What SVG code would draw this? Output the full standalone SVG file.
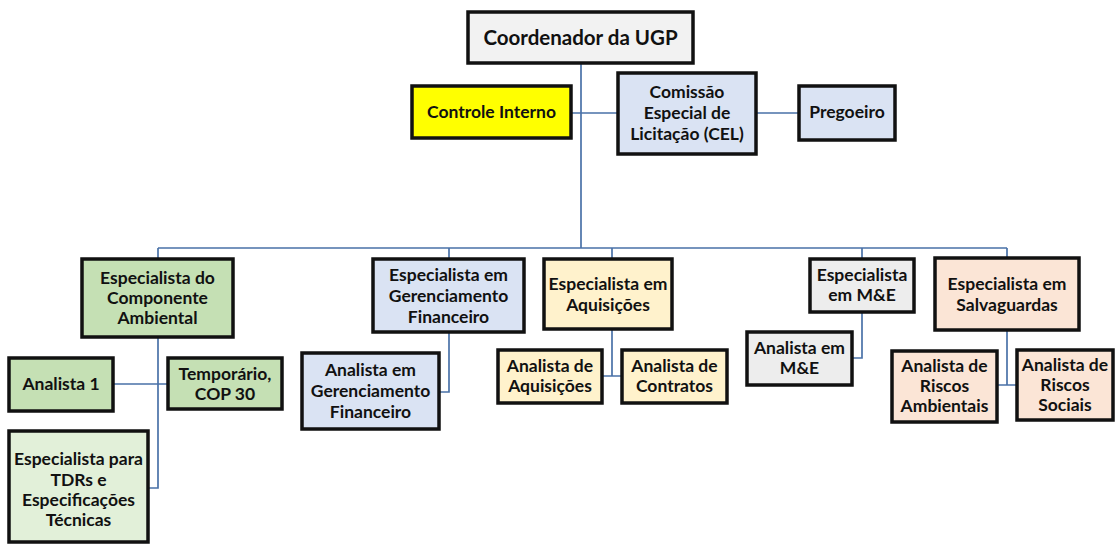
<svg xmlns="http://www.w3.org/2000/svg" width="1115" height="544" viewBox="0 0 1115 544">
<style>
.b{stroke:#111;stroke-width:3.5}
.t{font-family:Lato,"Liberation Sans",sans-serif;font-weight:bold;font-size:17.5px;fill:#111;text-anchor:middle}
.c{fill:none;stroke:#4a72a8;stroke-width:1.7}
.grey{fill:#f2f2f2}.yel{fill:#ffff00}.blue{fill:#dae3f3}.green{fill:#c5e0b4}.lgreen{fill:#e2f0d9}.sand{fill:#fff2cc}.gray2{fill:#ededed}.sal{fill:#fbe5d6}
</style>
<rect width="1115" height="544" fill="#fff"/>
<g id="connectors">
<path class="c" d="M581,63V248M571,113H618M756,113H799M158,248H1007M158,248V259M449,248V259M612,248V259M862,248V259M1007,248V258"/>
<path class="c" d="M158,337V488H148M113,384H168"/>
<path class="c" d="M449,332V392H439"/>
<path class="c" d="M612,329V376M602,376H622"/>
<path class="c" d="M862,312V358H852"/>
<path class="c" d="M1007,330V385M997,385H1017"/>
</g>
<g id="coordenador"><rect class="b grey" x="468" y="12" width="225" height="51"/><text class="t" x="580.5" y="44.5" style="font-size:20.5px">Coordenador da UGP</text></g>
<g id="controle"><rect class="b yel" x="412" y="86" width="159" height="52"/><text class="t" x="491.5" y="118">Controle Interno</text></g>
<g id="cel"><rect class="b blue" x="618" y="73" width="138" height="81"/><text class="t" x="687" y="98">Comissão<tspan x="687" dy="21">Especial de</tspan><tspan x="687" dy="21">Licitação (CEL)</tspan></text></g>
<g id="pregoeiro"><rect class="b blue" x="799" y="86" width="96" height="54"/><text class="t" x="847" y="118">Pregoeiro</text></g>
<g id="esp-amb"><rect class="b green" x="82" y="259" width="151" height="78"/><text class="t" x="157.5" y="284">Especialista do<tspan x="157.5" dy="20">Componente</tspan><tspan x="157.5" dy="20">Ambiental</tspan></text></g>
<g id="analista1"><rect class="b green" x="9" y="358" width="104" height="53"/><text class="t" x="61" y="390">Analista 1</text></g>
<g id="temporario"><rect class="b green" x="168" y="358" width="114" height="51"/><text class="t" x="225" y="380">Temporário,<tspan x="225" dy="20">COP 30</tspan></text></g>
<g id="esp-tdr"><rect class="b lgreen" x="9" y="431" width="139" height="111"/><text class="t" x="78.5" y="465">Especialista para<tspan x="78.5" dy="20.5">TDRs e</tspan><tspan x="78.5" dy="20.5">Especificações</tspan><tspan x="78.5" dy="19.5">Técnicas</tspan></text></g>
<g id="esp-fin"><rect class="b blue" x="373" y="259" width="151" height="73"/><text class="t" x="448.5" y="281">Especialista em<tspan x="448.5" dy="21">Gerenciamento</tspan><tspan x="448.5" dy="21">Financeiro</tspan></text></g>
<g id="analista-fin"><rect class="b blue" x="302" y="353" width="137" height="76"/><text class="t" x="370.5" y="376">Analista em<tspan x="370.5" dy="21">Gerenciamento</tspan><tspan x="370.5" dy="21">Financeiro</tspan></text></g>
<g id="esp-aq"><rect class="b sand" x="544" y="259" width="128" height="70"/><text class="t" x="608" y="290">Especialista em<tspan x="608" dy="21">Aquisições</tspan></text></g>
<g id="analista-aq"><rect class="b sand" x="498" y="350" width="104" height="53"/><text class="t" x="550" y="372">Analista de<tspan x="550" dy="20">Aquisições</tspan></text></g>
<g id="analista-cont"><rect class="b sand" x="622" y="350" width="105" height="53"/><text class="t" x="674.5" y="372">Analista de<tspan x="674.5" dy="20">Contratos</tspan></text></g>
<g id="esp-me"><rect class="b gray2" x="810" y="259" width="104" height="53"/><text class="t" x="862" y="281">Especialista<tspan x="862" dy="20">em M&amp;E</tspan></text></g>
<g id="analista-me"><rect class="b gray2" x="747" y="332" width="105" height="53"/><text class="t" x="799.5" y="354">Analista em<tspan x="799.5" dy="20">M&amp;E</tspan></text></g>
<g id="esp-salv"><rect class="b sal" x="935" y="258" width="144" height="72"/><text class="t" x="1007" y="290">Especialista em<tspan x="1007" dy="21">Salvaguardas</tspan></text></g>
<g id="riscos-amb"><rect class="b sal" x="892" y="351" width="105" height="71"/><text class="t" x="944.5" y="372">Analista de<tspan x="944.5" dy="20">Riscos</tspan><tspan x="944.5" dy="20">Ambientais</tspan></text></g>
<g id="riscos-soc"><rect class="b sal" x="1017" y="350" width="96" height="70"/><text class="t" x="1065" y="371">Analista de<tspan x="1065" dy="20">Riscos</tspan><tspan x="1065" dy="20">Sociais</tspan></text></g>
</svg>
